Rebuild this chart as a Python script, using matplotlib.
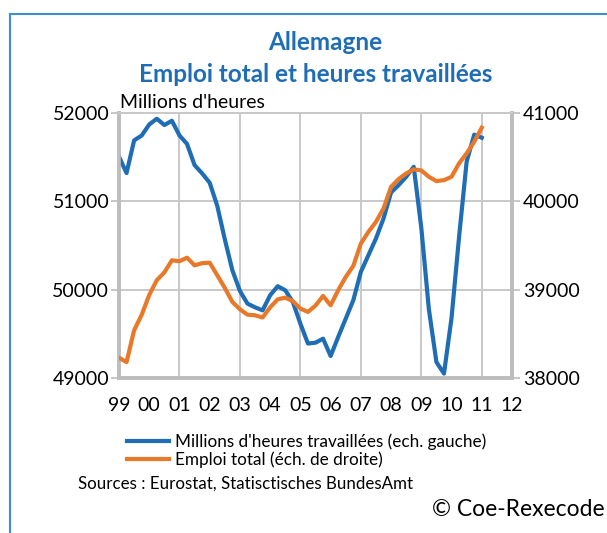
import numpy as np
import matplotlib.pyplot as plt
from matplotlib.lines import Line2D

plt.rcParams['font.family'] = ['Lato', 'DejaVu Sans']

# quarterly data, 1999Q1 .. 2011Q1
hours = [51505, 51320, 51690, 51745, 51870, 51935, 51864, 51912,
         51746, 51650, 51410, 51316, 51210, 50950, 50570, 50220,
         49985, 49842, 49800, 49766, 49937, 50039, 49993, 49861,
         49615, 49390, 49400, 49445, 49249, 49464, 49672, 49880,
         50201, 50390, 50579, 50806, 51101, 51184, 51278, 51391,
         50700, 49780, 49180, 49050, 49680, 50600, 51450, 51755,
         51720]
emploi = [38230, 38180, 38540, 38715, 38940, 39107, 39195, 39333,
          39322, 39362, 39275, 39300, 39305, 39163, 39020, 38861,
          38778, 38717, 38710, 38685, 38800, 38891, 38910, 38870,
          38786, 38748, 38820, 38929, 38823, 38993, 39144, 39269,
          39522, 39654, 39768, 39919, 40164, 40252, 40316, 40362,
          40350, 40278, 40229, 40240, 40278, 40430, 40543, 40675,
          40834]
year_labels = ['99', '00', '01', '02', '03', '04', '05', '06',
               '07', '08', '09', '10', '11', '12']

blue = '#1F6DB4'
orange = '#E8792B'
title_blue = '#1F6DB4'
grid_gray = '#C9C9C9'
axis_gray = '#BDBDBD'

x = 1999 + np.arange(len(hours)) / 4.0
years = np.arange(1999, 2013)

fig = plt.figure(figsize=(6.07, 5.33), dpi=100)
W, H = 607, 533
ax = fig.add_axes([119 / W, 1 - 378 / H, (512 - 119) / W, (378 - 113) / H])
ax2 = ax.twinx()

# grid
for yr in years[(years % 2) == 1]:
    ax.axvline(yr, color=grid_gray, lw=1.4, zorder=0)
ax.set_yticks([49000, 50000, 51000, 52000])
ax.yaxis.grid(True, color=grid_gray, lw=1.4)
ax.set_axisbelow(True)

ax.plot(x, hours, color=blue, lw=3.0, zorder=3)
ax2.plot(x, emploi, color=orange, lw=3.0, zorder=3)

ax.set_xlim(1999, 2012)
ax.set_ylim(49000, 52000)
ax2.set_ylim(38000, 41000)
ax2.set_yticks([38000, 39000, 40000, 41000])

ax.set_xticks(years)
ax.set_xticklabels(year_labels)
ax.set_xticks(years[(years % 2) == 0], minor=True)
ax.tick_params(axis='x', which='major', length=0, pad=14, labelsize=14)
ax.tick_params(axis='x', which='minor', direction='in', length=11,
               width=1.0, color='#333333')
ax.tick_params(axis='y', length=6, width=1.2, color=axis_gray,
               labelsize=14, pad=1)
ax2.tick_params(axis='y', length=6, width=1.2, color=axis_gray,
                labelsize=14, pad=2)

for a in (ax, ax2):
    for side in ('left', 'right', 'bottom'):
        a.spines[side].set_color(axis_gray)
        a.spines[side].set_linewidth(2.6)
    a.spines['top'].set_color(grid_gray)
    a.spines['top'].set_linewidth(1.4)

# titles and texts
fig.text(325 / W, 1 - 42 / H, 'Allemagne', color=title_blue,
         fontsize=17.5, fontweight='bold', ha='center', va='center')
fig.text(316 / W, 1 - 75 / H, 'Emploi total et heures travaillées',
         color=title_blue, fontsize=17.5, fontweight='bold',
         ha='center', va='center')
fig.text(120 / W, 1 - 102 / H, "Millions d'heures", fontsize=14,
         ha='left', va='center')

handles = [Line2D([], [], color=blue, lw=3.0),
           Line2D([], [], color=orange, lw=3.0)]
fig.legend(handles,
           ["Millions d'heures travaillées (ech. gauche)",
            'Emploi total (éch. de droite)'],
           loc='upper left', bbox_to_anchor=(118 / W, 1 - 425 / H),
           frameon=False, fontsize=12.3, handlelength=2.5,
           handletextpad=0.35, labelspacing=0.05, borderpad=0)

fig.text(78 / W, 1 - 484 / H, 'Sources : Eurostat, Statisctisches BundesAmt',
         fontsize=12.2, ha='left', va='center')
fig.text(605 / W, 1 - 510 / H, '© Coe-Rexecode', fontsize=16.5,
         ha='right', va='center')

# frame lines
fig.add_artist(Line2D([10 / W, 10 / W], [0, 1 - 14 / H], color='#3D8FD1',
                      lw=1.5, transform=fig.transFigure))
fig.add_artist(Line2D([10 / W, 1], [1 - 14 / H, 1 - 14 / H], color='#3D8FD1',
                      lw=1.5, transform=fig.transFigure))

fig.savefig('out.png', dpi=100)
